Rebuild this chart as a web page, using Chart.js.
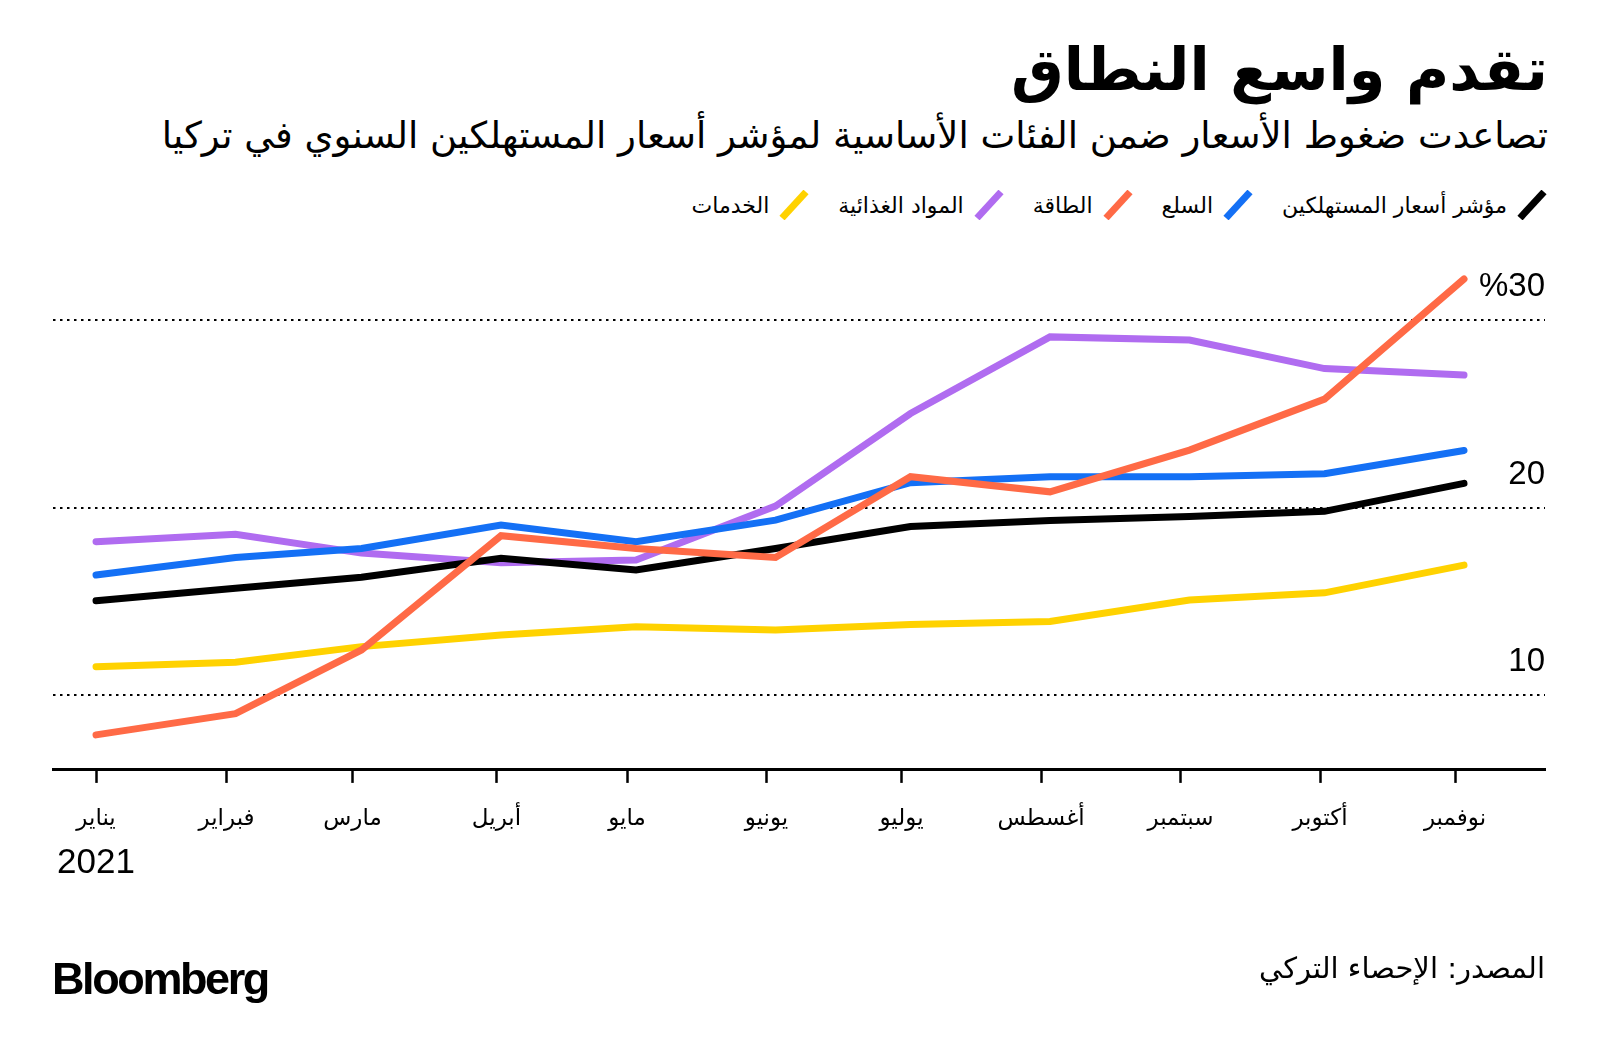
<!DOCTYPE html>
<html lang="ar">
<head>
<meta charset="utf-8">
<script src="https://cdn.jsdelivr.net/npm/chart.js@4.4.1/dist/chart.umd.min.js"></script>
<style>
html,body{margin:0;padding:0;background:#fff;}
body{width:1600px;height:1060px;position:relative;overflow:hidden;font-family:"DejaVu Sans",sans-serif;color:#000;}
#c{position:absolute;left:0;top:0;}
.title{position:absolute;right:52px;top:30px;height:80px;line-height:80px;font-size:59px;font-weight:bold;direction:rtl;white-space:nowrap;}
.subtitle{position:absolute;right:52px;top:111px;height:50px;line-height:50px;font-size:37px;direction:rtl;white-space:nowrap;}
#legend{position:absolute;right:53px;top:188px;height:34px;display:flex;flex-direction:row;direction:rtl;align-items:center;font-size:22px;white-space:nowrap;}
#legend .item{display:flex;align-items:center;margin-left:29px;}
#legend svg{margin-left:10px;display:block;}
.source{position:absolute;right:55px;top:946px;height:44px;line-height:44px;font-size:29px;direction:rtl;white-space:nowrap;}
.logo{position:absolute;left:52px;top:953px;height:52px;line-height:52px;font-family:"Liberation Sans",Arial,sans-serif;font-weight:bold;font-size:45px;letter-spacing:-2.4px;}
</style>
</head>
<body>
<div class="title" id="title"></div>
<div class="subtitle" id="subtitle"></div>
<div id="legend"></div>
<canvas id="c" width="1600" height="1060"></canvas>
<div class="source" id="source"></div>
<div class="logo">Bloomberg</div>
<script>
// ---- data ----
const titleText = 'تقدم واسع النطاق';
const subtitleText = 'تصاعدت ضغوط الأسعار ضمن الفئات الأساسية لمؤشر أسعار المستهلكين السنوي في تركيا';
const sourceText = 'المصدر: الإحصاء التركي';
const months = ['يناير','فبراير','مارس','أبريل','مايو','يونيو','يوليو','أغسطس','سبتمبر','أكتوبر','نوفمبر'];
const yearLabel = '2021';
const pointDays = [0, 31, 59, 90, 120, 151, 181, 212, 243, 273, 304];
const tickDays = [0, 29, 57, 89, 118, 149, 179, 210, 241, 272, 302];
const yTicks = [10, 20, 30];
const yTickLabels = ['10', '20', '%30'];
const seriesNames = ['مؤشر أسعار المستهلكين', 'السلع', 'الطاقة', 'المواد الغذائية', 'الخدمات'];
const seriesColors = ['#000000', '#1470f5', '#ff6a46', '#b06cf0', '#ffd200'];
const seriesOrder = [1, 2, 0, 3, 4];
const cpi      = [15.03, 15.69, 16.28, 17.30, 16.67, 17.82, 18.99, 19.31, 19.53, 19.80, 21.29];
const goods    = [16.40, 17.34, 17.82, 19.07, 18.18, 19.33, 21.33, 21.65, 21.65, 21.81, 23.05];
const energy   = [7.87, 9.00, 12.40, 18.50, 17.82, 17.34, 21.65, 20.84, 23.07, 25.79, 32.20];
const food     = [18.18, 18.57, 17.57, 17.06, 17.20, 20.08, 25.02, 29.11, 28.94, 27.42, 27.07];
const services = [11.51, 11.75, 12.58, 13.20, 13.64, 13.47, 13.76, 13.92, 15.07, 15.45, 16.93];
const seriesValues = [cpi, goods, energy, food, services];

// ---- text ----
document.getElementById('title').textContent = titleText;
document.getElementById('subtitle').textContent = subtitleText;
document.getElementById('source').textContent = sourceText;
const legend = document.getElementById('legend');
seriesNames.forEach((n, i) => {
  const it = document.createElement('span');
  it.className = 'item';
  it.innerHTML = '<svg width="30" height="30" viewBox="0 0 30 30"><line x1="3" y1="28" x2="27" y2="2" stroke="' + seriesColors[i] + '" stroke-width="7"/></svg>';
  const t = document.createElement('span');
  t.textContent = n;
  it.appendChild(t);
  legend.appendChild(it);
});

// ---- decorations plugin ----
const decor = {
  id: 'decor',
  beforeDatasetsDraw(chart) {
    const {ctx, chartArea, scales: {x, y}} = chart;
    ctx.save();
    ctx.strokeStyle = '#000';
    ctx.lineWidth = 2;
    ctx.setLineDash([2.5, 4.5]);
    yTicks.forEach(v => {
      const py = Math.round(y.getPixelForValue(v));
      ctx.beginPath();
      ctx.moveTo(chartArea.left, py);
      ctx.lineTo(chartArea.right, py);
      ctx.stroke();
    });
    ctx.setLineDash([]);
    ctx.direction = 'ltr';
    ctx.fillStyle = '#000';
    ctx.font = '33px "Liberation Sans", Arial, sans-serif';
    ctx.textAlign = 'right';
    ctx.textBaseline = 'middle';
    yTicks.forEach((v, i) => ctx.fillText(yTickLabels[i], chartArea.right, y.getPixelForValue(v) - 33));
    ctx.font = '35px "Liberation Sans", Arial, sans-serif';
    ctx.textAlign = 'center';
    ctx.fillText(yearLabel, x.getPixelForValue(tickDays[0]), chartArea.bottom + 93);
    ctx.restore();
  }
};

new Chart(document.getElementById('c'), {
  type: 'line',
  data: {
    datasets: seriesNames.map((n, i) => ({
      label: n,
      data: seriesValues[i].map((v, j) => ({x: pointDays[j], y: v})),
      borderColor: seriesColors[i],
      backgroundColor: seriesColors[i],
      borderWidth: 7,
      borderCapStyle: 'round',
      borderJoinStyle: 'miter',
      pointRadius: 0,
      tension: 0,
      fill: false,
      order: seriesOrder[i]
    }))
  },
  options: {
    responsive: false,
    animation: false,
    devicePixelRatio: 1,
    layout: {padding: {left: 53, right: 55, top: 264, bottom: 204.5}},
    plugins: {legend: {display: false}, tooltip: {enabled: false}},
    scales: {
      x: {
        type: 'linear', min: -9.56, max: 322,
        afterBuildTicks(s) { s.ticks = tickDays.map(v => ({value: v})); },
        ticks: {autoSkip: false, maxRotation: 0, padding: 22.5, color: '#000',
                font: {family: 'DejaVu Sans', size: 23},
                callback: (v, i) => months[i]},
        grid: {display: true, drawOnChartArea: false, drawTicks: true, tickLength: 13, tickWidth: 2.5, tickColor: '#000'},
        border: {display: true, color: '#000', width: 3}
      },
      y: {display: false, min: 6, max: 33}
    }
  },
  plugins: [decor]
});
</script>
</body>
</html>
